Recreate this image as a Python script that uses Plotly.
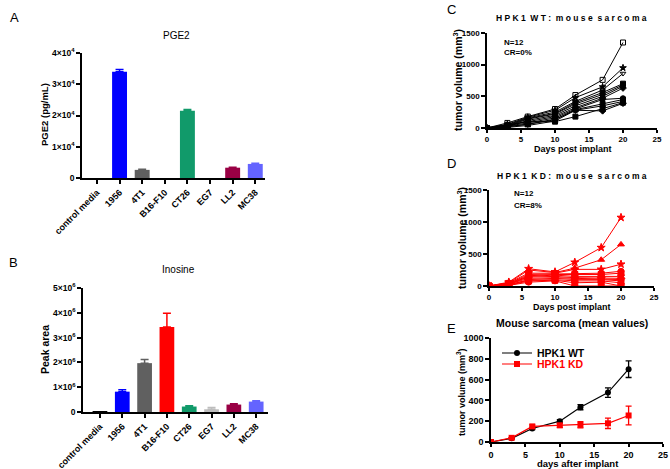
import plotly.graph_objects as go

W, H = 670, 469
FONT = "Arial, Liberation Sans, sans-serif"

# ---------------- data ----------------
cell_lines = ["control media", "1956", "4T1", "B16-F10", "CT26", "EG7", "LL2", "MC38"]
bar_colors = ["#000000", "#0000ff", "#606060", "#ff0000", "#119a6a", "#bdbdbd", "#990044", "#6464ff"]

pge2_values = [0, 34000, 2600, 0, 21500, 0, 3300, 4500]
pge2_errors = [0, 700, 200, 0, 450, 0, 150, 200]

inosine_values = [20000, 820000, 1970000, 3430000, 220000, 110000, 300000, 420000]
inosine_errors = [0, 80000, 150000, 550000, 30000, 70000, 30000, 30000]

days = [0, 3, 6, 10, 13, 17, 20]

wt_mice = [
    [0, 80, 180, 300, 520, 760, 1350],
    [0, 60, 170, 280, 480, 650, 950],
    [0, 50, 160, 250, 420, 600, 860],
    [0, 40, 150, 230, 400, 560, 700],
    [0, 30, 140, 220, 380, 530, 680],
    [0, 20, 120, 200, 350, 500, 660],
    [0, 50, 100, 180, 320, 470, 630],
    [0, 30, 80, 160, 300, 450, 470],
    [0, 20, 60, 130, 290, 380, 450],
    [0, 10, 40, 110, 280, 350, 420],
    [0, 40, 100, 100, 180, 300, 400],
    [0, 20, 60, 140, 280, 270, 390],
]
wt_symbols = ["square-open", "star", "triangle-down-open", "square", "circle", "triangle-up",
              "diamond", "circle", "square", "triangle-up", "square", "diamond"]

kd_mice = [
    [0, 60, 270, 220, 370, 600, 1070],
    [0, 50, 250, 210, 280, 410, 650],
    [0, 50, 200, 200, 260, 260, 340],
    [0, 40, 180, 190, 200, 200, 230],
    [0, 40, 160, 180, 180, 180, 200],
    [0, 30, 150, 170, 150, 150, 150],
    [0, 30, 140, 150, 130, 130, 120],
    [0, 30, 120, 130, 120, 110, 100],
    [0, 20, 100, 120, 100, 100, 80],
    [0, 20, 90, 100, 80, 80, 50],
    [0, 10, 80, 90, 50, 60, 0],
    [0, 10, 60, 80, 0, 0, 0],
]
kd_symbols = ["star", "triangle-up", "star", "circle", "square", "triangle-down",
              "diamond", "circle", "square", "triangle-up", "square", "circle"]

wt_mean = [0, 35, 130, 200, 335, 475, 700]
wt_sem = [0, 5, 10, 15, 25, 45, 80]
kd_mean = [0, 40, 150, 160, 165, 180, 255]
kd_sem = [0, 5, 15, 20, 30, 50, 90]

# ---------------- helpers ----------------
def xd(a, b):
    return [a / W, b / W]

def yd(top, bottom):
    return [1 - bottom / H, 1 - top / H]

fig = go.Figure()

# Panels A & B bars (one trace per cell line so each error bar takes its bar colour)
for i, name in enumerate(cell_lines):
    fig.add_trace(go.Bar(
        x=[name], y=[pge2_values[i]], marker=dict(color=bar_colors[i], line=dict(width=0)),
        width=0.66,
        error_y=dict(type="data", symmetric=False, array=[pge2_errors[i]], arrayminus=[0],
                     color=bar_colors[i], thickness=1.5, width=4, visible=pge2_errors[i] > 0),
        xaxis="x", yaxis="y", showlegend=False))
    fig.add_trace(go.Bar(
        x=[name], y=[inosine_values[i]], marker=dict(color=bar_colors[i], line=dict(width=0)),
        width=0.66,
        error_y=dict(type="data", symmetric=False, array=[inosine_errors[i]], arrayminus=[0],
                     color=bar_colors[i], thickness=1.5, width=4, visible=inosine_errors[i] > 0),
        xaxis="x2", yaxis="y2", showlegend=False))

# Panel C lines
for vals, sym in zip(wt_mice, wt_symbols):
    fig.add_trace(go.Scatter(
        x=days, y=vals, mode="lines+markers",
        line=dict(color="black", width=1),
        marker=dict(symbol=sym, size=5, color="black", line=dict(color="black", width=1)),
        xaxis="x3", yaxis="y3", showlegend=False))

# Panel D lines
for vals, sym in zip(kd_mice, kd_symbols):
    fig.add_trace(go.Scatter(
        x=days, y=vals, mode="lines+markers",
        line=dict(color="#ff0000", width=1),
        marker=dict(symbol=sym, size=6, color="#ff0000", line=dict(color="#ff0000", width=1)),
        xaxis="x4", yaxis="y4", showlegend=False))

# Panel E means
fig.add_trace(go.Scatter(
    x=days, y=wt_mean, mode="lines+markers", name="HPK1 WT",
    line=dict(color="black", width=1.2),
    marker=dict(symbol="circle", size=6, color="black"),
    error_y=dict(type="data", array=wt_sem, color="black", thickness=1.3, width=3),
    xaxis="x5", yaxis="y5", legend="legend"))
fig.add_trace(go.Scatter(
    x=days, y=kd_mean, mode="lines+markers", name="HPK1 KD",
    line=dict(color="#ff0000", width=1.2),
    marker=dict(symbol="square", size=6, color="#ff0000"),
    error_y=dict(type="data", array=kd_sem, color="#ff0000", thickness=1.3, width=3),
    xaxis="x5", yaxis="y5", legend="legend2"))

axis_common = dict(showline=True, linecolor="black", linewidth=1.5, ticks="outside",
                   tickcolor="black", tickwidth=1.5, showgrid=False,
                   zeroline=False, mirror=False, automargin=False)
tickfont_cat = dict(family=FONT, size=9, color="black", weight="bold")
tickfont_y = dict(family=FONT, size=8.5, color="black", weight="bold")
tickfont_small = dict(family=FONT, size=8, color="black", weight="bold")
tickfont_e = dict(family=FONT, size=9, color="black", weight="bold")

fig.update_layout(
    xaxis=dict(**axis_common, ticklen=4, domain=xd(82, 265), anchor="y", range=[-0.66, 7.43],
               tickangle=-45, tickfont=tickfont_cat, type="category",
               categoryorder="array", categoryarray=cell_lines),
    yaxis=dict(**axis_common, ticklen=4, domain=yd(53, 178), anchor="x", range=[0, 40000],
               tickvals=[0, 10000, 20000, 30000, 40000],
               ticktext=["0", "1×10<sup>4</sup>", "2×10<sup>4</sup>", "3×10<sup>4</sup>", "4×10<sup>4</sup>"],
               tickfont=tickfont_y),
    xaxis2=dict(**axis_common, ticklen=4, domain=xd(83, 268), anchor="y2", range=[-0.76, 7.53],
                tickangle=-45, tickfont=tickfont_cat, type="category",
                categoryorder="array", categoryarray=cell_lines),
    yaxis2=dict(**axis_common, ticklen=4, domain=yd(288, 412), anchor="x2", range=[0, 5e6],
                tickvals=[0, 1e6, 2e6, 3e6, 4e6, 5e6],
                ticktext=["0", "1×10<sup>6</sup>", "2×10<sup>6</sup>", "3×10<sup>6</sup>",
                          "4×10<sup>6</sup>", "5×10<sup>6</sup>"],
                tickfont=tickfont_y),
    xaxis3=dict(**axis_common, ticklen=3, domain=xd(487, 657), anchor="y3", range=[0, 25],
                tickvals=[0, 5, 10, 15, 20, 25], tickfont=tickfont_small),
    yaxis3=dict(**axis_common, ticklen=4, domain=yd(33, 128), anchor="x3", range=[0, 1500],
                tickvals=[0, 500, 1000, 1500], tickfont=tickfont_small),
    xaxis4=dict(**axis_common, ticklen=3, domain=xd(489, 654), anchor="y4", range=[0, 25],
                tickvals=[0, 5, 10, 15, 20, 25], tickfont=tickfont_small),
    yaxis4=dict(**axis_common, ticklen=4, domain=yd(190, 286), anchor="x4", range=[0, 1500],
                tickvals=[0, 500, 1000, 1500], tickfont=tickfont_small),
    xaxis5=dict(**axis_common, ticklen=3, domain=xd(491, 663), anchor="y5", range=[0, 25],
                tickvals=[0, 5, 10, 15, 20, 25], tickfont=tickfont_e),
    yaxis5=dict(**axis_common, ticklen=4, domain=yd(338, 442), anchor="x5", range=[0, 1000],
                tickvals=[0, 200, 400, 600, 800, 1000], tickfont=tickfont_e),
)

annotations = []

def ann(text, x, y, size=10, bold=False, angle=0, color="black", xanchor="center"):
    annotations.append(dict(
        text=text, x=x / W, y=1 - y / H, xref="paper", yref="paper", showarrow=False,
        xanchor=xanchor, yanchor="middle", textangle=angle,
        font=dict(family=FONT, size=size, color=color, weight="bold" if bold else "normal")))

# panel letters
ann("A", 8, 17, size=13, xanchor="left")
ann("B", 7, 262, size=13, xanchor="left")
ann("C", 445, 9, size=13, xanchor="left")
ann("D", 445, 164, size=13, xanchor="left")
ann("E", 445, 328, size=13, xanchor="left")

# titles
ann("PGE2", 176, 35, size=10)
ann("Inosine", 178, 269, size=10)
ann("H P K 1  W T :  m o u s e  s a r c o m a", 571, 18, size=8.5, bold=True)
ann("H P K 1  K D :  m o u s e  s a r c o m a", 572, 176, size=8.5, bold=True)
ann("Mouse sarcoma (mean values)", 572, 323, size=10.5, bold=True)

# y titles
ann("PGE2 (pg/mL)", 45, 115, size=9.5, bold=True, angle=-90)
ann("Peak area", 45, 350, size=10.5, bold=True, angle=-90)
ann("tumor volume (mm<sup>3</sup>)", 458, 80, size=10.5, bold=True, angle=-90)
ann("tumor volume (mm<sup>3</sup>)", 461, 238, size=10.5, bold=True, angle=-90)
ann("tumor volume (mm<sup>3</sup>)", 461, 392, size=9, bold=True, angle=-90)

# x titles
ann("Days post implant", 573, 149, size=9, bold=True)
ann("Days post implant", 572, 307, size=9, bold=True)
ann("days after implant", 578, 463, size=9.5, bold=True)

# N / CR texts
ann("N=12", 502, 42, size=8, bold=True, xanchor="left")
ann("CR=0%", 502, 52, size=8, bold=True, xanchor="left")
ann("N=12", 512, 193, size=8, bold=True, xanchor="left")
ann("CR=8%", 512, 205, size=8, bold=True, xanchor="left")

legend_font = dict(family=FONT, size=10.5, color="black", weight="bold")
legend_font_red = dict(family=FONT, size=10.5, color="#ff0000", weight="bold")

fig.update_layout(
    annotations=annotations,
    width=W, height=H,
    margin=dict(l=0, r=0, t=0, b=0, autoexpand=False),
    paper_bgcolor="white", plot_bgcolor="white",
    barmode="overlay",
    legend=dict(x=497 / W, y=1 - 353 / H, xanchor="left", yanchor="middle",
                bgcolor="rgba(0,0,0,0)", font=legend_font, itemwidth=30),
    legend2=dict(x=497 / W, y=1 - 364 / H, xanchor="left", yanchor="middle",
                 bgcolor="rgba(0,0,0,0)", font=legend_font_red, itemwidth=30),
    font=dict(family=FONT, color="black"),
)

fig.write_html("out.html", config={"displayModeBar": False},
               post_script="document.body.style.margin='0px';document.body.style.overflow='hidden';")
